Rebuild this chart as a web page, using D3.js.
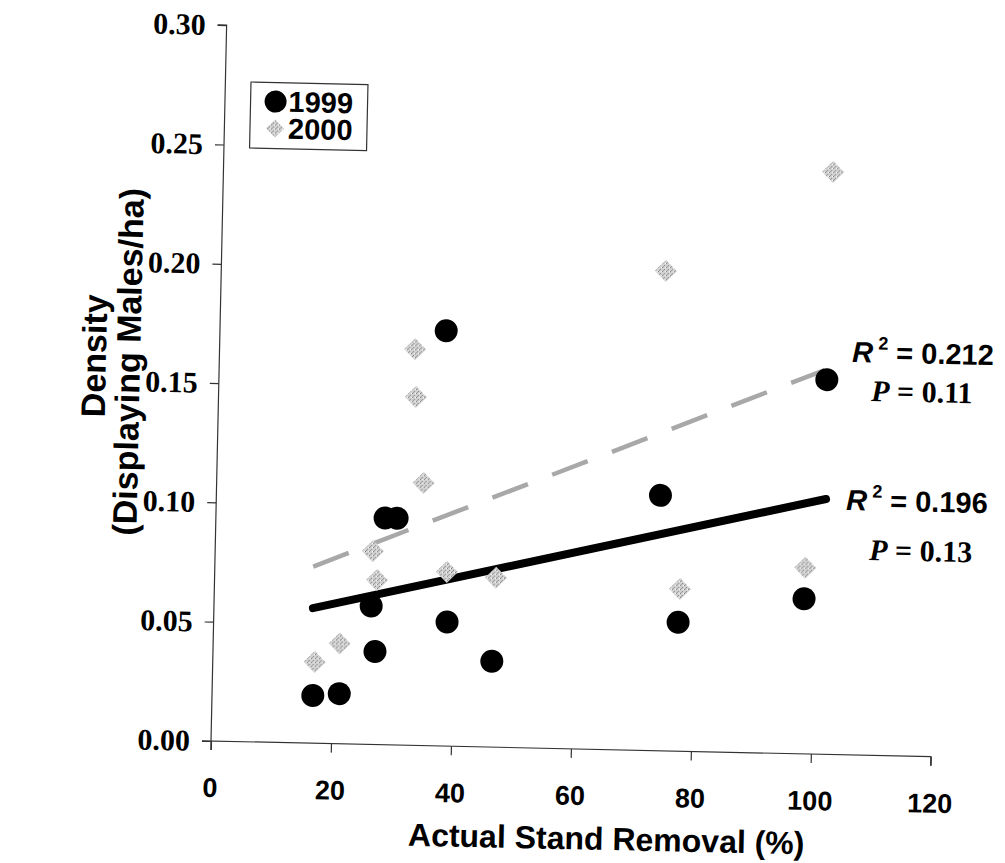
<!DOCTYPE html>
<html><head><meta charset="utf-8">
<script src="https://cdn.jsdelivr.net/npm/d3@7/dist/d3.min.js"></script>
<style>body{margin:0;background:#fff}svg{display:block}</style>
</head><body>
<svg id="chart" width="1005" height="863"></svg>
<script>
// ---- data ----
const xTicks = [0, 20, 40, 60, 80, 100, 120];
const yTicks = [0.00, 0.05, 0.10, 0.15, 0.20, 0.25, 0.30];
const yTickLabels = ["0.00", "0.05", "0.10", "0.15", "0.20", "0.25", "0.30"];
const removal1999 = [16.8, 21.2, 26.2, 27, 28.2, 30.2, 37.7, 38.9, 46.5, 74, 77.4, 98.3, 101.3];
const density1999 = [0.020, 0.021, 0.058, 0.039, 0.095, 0.095, 0.174, 0.052, 0.036, 0.107, 0.054, 0.065, 0.157];
const removal2000 = [17, 21.1, 26.3, 27.1, 32.6, 34.5, 32.9, 38.7, 46.9, 74.1, 77.6, 98.4, 101.6];
const density2000 = [0.034, 0.042, 0.081, 0.069, 0.166, 0.110, 0.146, 0.073, 0.071, 0.201, 0.068, 0.078, 0.244];
const trend1999 = [[16.5, 0.0566], [101.6, 0.107]];
const trend2000 = [[16.4, 0.074], [100.9, 0.161]];
const seriesNames = ["1999", "2000"];
const stats1999 = {r2: "0.196", p: "0.13"};
const stats2000 = {r2: "0.212", p: "0.11"};

// ---- layout ----
const ox = 211, oy = 741, angle = 1.25;
const rad = angle * Math.PI / 180, c = Math.cos(rad), s = Math.sin(rad);
function toLocal(sx, sy) { const dx = sx - ox, dy = sy - oy; return [dx * c + dy * s, -dx * s + dy * c]; }

const x = d3.scaleLinear().domain([0, 120]).range([0, 720]);
const y = d3.scaleLinear().domain([0, 0.30]).range([0, -716]);

const svg = d3.select("#chart");
const defs = svg.append("defs");
const pat = defs.append("pattern").attr("id", "speck").attr("width", 4).attr("height", 4).attr("patternUnits", "userSpaceOnUse");
pat.append("rect").attr("width", 4).attr("height", 4).attr("fill", "#d2d2d2");
pat.append("rect").attr("x", 0).attr("y", 0).attr("width", 1).attr("height", 1).attr("fill", "#777");
pat.append("rect").attr("x", 2).attr("y", 2).attr("width", 1).attr("height", 1).attr("fill", "#888");
pat.append("rect").attr("x", 3).attr("y", 0).attr("width", 1).attr("height", 1).attr("fill", "#fff");
pat.append("rect").attr("x", 1).attr("y", 3).attr("width", 1).attr("height", 1).attr("fill", "#999");

const g = svg.append("g").attr("transform", `translate(${ox},${oy}) rotate(${angle})`);

// axes
const xAxis = d3.axisBottom(x).tickValues(xTicks).tickSize(9).tickFormat("");
const yAxis = d3.axisLeft(y).tickValues(yTicks).tickSize(9).tickFormat("");
const gx = g.append("g").call(xAxis);
const gy = g.append("g").call(yAxis);
[gx, gy].forEach(a => { a.select(".domain").attr("stroke", "#333").attr("stroke-width", 1.2);
  a.selectAll(".tick line").attr("stroke", "#333").attr("stroke-width", 1.2); });
gy.select(".domain").attr("d", `M-9,${y(0.30)}H0V9`);
gx.select(".domain").attr("d", `M-9,0H${x(120)}V9`);

// tick labels
g.selectAll(".xl").data(xTicks).join("text")
  .attr("x", d => x(d)).attr("y", 56).attr("text-anchor", "middle")
  .attr("font-family", "Liberation Sans, Arial, sans-serif").attr("font-weight", "bold").attr("font-size", 27)
  .text(d => d);
g.selectAll(".yl").data(yTicks).join("text")
  .attr("x", -21).attr("y", d => y(d) + 10).attr("text-anchor", "end")
  .attr("font-family", "Liberation Serif, Times New Roman, serif").attr("font-weight", "bold").attr("font-size", 30)
  .text((d, i) => yTickLabels[i]);

// axis titles
const xt = toLocal(606, 850);
g.append("text").attr("x", xt[0]).attr("y", xt[1]).attr("text-anchor", "middle")
  .attr("font-family", "Liberation Sans, Arial, sans-serif").attr("font-weight", "bold").attr("font-size", 32)
  .text("Actual Stand Removal (%)");
const yt1 = toLocal(106, 356), yt2 = toLocal(140, 362);
g.append("text").attr("transform", `translate(${yt1[0]},${yt1[1]}) rotate(-90)`).attr("text-anchor", "middle")
  .attr("font-family", "Liberation Sans, Arial, sans-serif").attr("font-weight", "bold").attr("font-size", 34)
  .text("Density");
g.append("text").attr("transform", `translate(${yt2[0]},${yt2[1]}) rotate(-90)`).attr("text-anchor", "middle")
  .attr("font-family", "Liberation Sans, Arial, sans-serif").attr("font-weight", "bold").attr("font-size", 34)
  .text("(Displaying Males/ha)");

// trend lines
const line = d3.line().x(d => x(d[0])).y(d => y(d[1]));
g.append("path").attr("d", line(trend2000)).attr("fill", "none").attr("stroke", "#a8a8a8")
  .attr("stroke-width", 4.5).attr("stroke-dasharray", "38,26");
g.append("path").attr("d", line(trend1999)).attr("fill", "none").attr("stroke", "#000")
  .attr("stroke-width", 8).attr("stroke-linecap", "round");

// points
const diamond = r => `M0,${-r}L${r},0L0,${r}L${-r},0Z`;
g.selectAll(".p2000").data(removal2000.map((v, i) => [v, density2000[i]])).join("path")
  .attr("transform", d => `translate(${x(d[0])},${y(d[1])})`).attr("d", diamond(11))
  .attr("fill", "url(#speck)");
g.selectAll(".p1999").data(removal1999.map((v, i) => [v, density1999[i]])).join("circle")
  .attr("cx", d => x(d[0])).attr("cy", d => y(d[1])).attr("r", 11.5).attr("fill", "#000");

// legend
const lb = toLocal(251, 82);
const leg = g.append("g").attr("transform", `translate(${lb[0]},${lb[1]})`);
leg.append("rect").attr("width", 117).attr("height", 66).attr("fill", "none").attr("stroke", "#333").attr("stroke-width", 1.2);
leg.append("circle").attr("cx", 25).attr("cy", 19).attr("r", 11).attr("fill", "#000");
leg.append("path").attr("transform", "translate(25,46)").attr("d", diamond(9)).attr("fill", "url(#speck)");
leg.selectAll(".lt").data(seriesNames).join("text").attr("x", 38).attr("y", (d, i) => 29 + i * 27)
  .attr("font-family", "Liberation Sans, Arial, sans-serif").attr("font-weight", "bold").attr("font-size", 29)
  .text(d => d);

// annotations
function rLabel(sx, sy, val) {
  const p = toLocal(sx, sy);
  const t = g.append("text").attr("x", p[0]).attr("y", p[1])
    .attr("font-family", "Liberation Sans, Arial, sans-serif").attr("font-weight", "bold").attr("font-size", 29);
  t.append("tspan").attr("font-style", "italic").text("R");
  t.append("tspan").attr("font-size", 18).attr("dy", -13).attr("dx", 5).text("2");
  t.append("tspan").attr("dy", 13).text(" = " + val);
}
function pLabel(sx, sy, val) {
  const p = toLocal(sx, sy);
  const t = g.append("text").attr("x", p[0]).attr("y", p[1])
    .attr("font-family", "Liberation Serif, Times New Roman, serif").attr("font-weight", "bold").attr("font-size", 30);
  t.append("tspan").attr("font-style", "italic").text("P");
  t.append("tspan").text(" = " + val);
}
rLabel(852, 362, stats2000.r2);
pLabel(871, 401, stats2000.p);
rLabel(846, 510, stats1999.r2);
pLabel(869, 560, stats1999.p);
</script>
</body></html>
